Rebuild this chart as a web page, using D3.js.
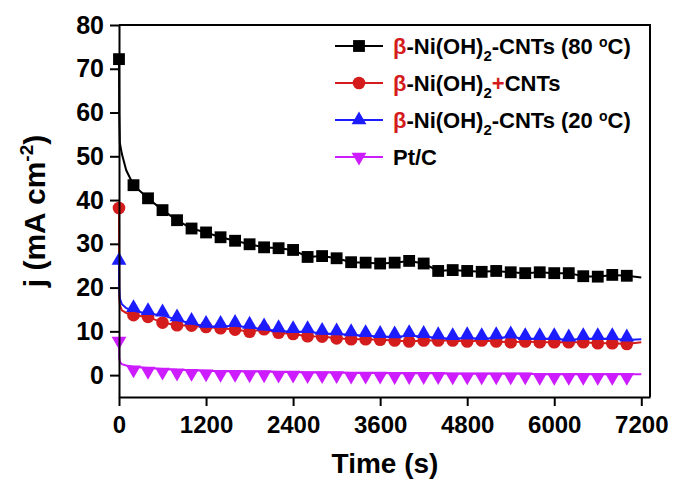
<!DOCTYPE html>
<html>
<head>
<meta charset="utf-8">
<title>j vs time</title>
<script src="https://d3js.org/d3.v7.min.js" charset="utf-8"></script>
<style>
body { margin: 0; background: #fff; }
text { font-family: "Liberation Sans", Arial, sans-serif; font-weight: bold; fill: #000; }
</style>
</head>
<body>
<script>
// chart size
var width = 674;
var height = 479;

// time of every plotted symbol (s)
var markerTimes = [0, 200, 400, 600, 800, 1000, 1200, 1400, 1600, 1800, 2000, 2200,
  2400, 2600, 2800, 3000, 3200, 3400, 3600, 3800, 4000, 4200, 4400, 4600,
  4800, 5000, 5200, 5400, 5600, 5800, 6000, 6200, 6400, 6600, 6800, 7000];
// extra points of the fast initial decay, and last point of each trace
var headTimes = [3, 12, 40, 100];
var endTime = 7200;

// beta-Ni(OH)2-CNTs (80 C)
var hot80Marks = [72.2, 43.4, 40.4, 37.7, 35.4, 33.5, 32.6, 31.5, 30.7, 29.9, 29.2, 29.0,
  28.6, 27.0, 27.2, 26.7, 25.8, 25.7, 25.5, 25.7, 26.1, 25.5, 23.8, 24.0,
  23.8, 23.6, 23.8, 23.5, 23.3, 23.5, 23.3, 23.3, 22.6, 22.5, 22.9, 22.7];
var hot80Head = [60, 53, 50.5, 46.8];
var hot80End = 22.3;

// beta-Ni(OH)2+CNTs
var mixMarks = [38.2, 13.7, 13.3, 12.0, 11.4, 11.3, 11.0, 10.7, 10.4, 9.9, 10.5, 9.7,
  9.4, 8.9, 8.8, 8.4, 8.2, 8.2, 8.1, 7.9, 7.7, 7.9, 7.9, 7.9,
  7.7, 7.9, 7.7, 7.5, 7.7, 7.5, 7.5, 7.5, 7.5, 7.3, 7.3, 7.1];
var mixHead = [18, 16, 14.8, 14.2];
var mixEnd = 7.5;

// beta-Ni(OH)2-CNTs (20 C)
var cold20Marks = [25.5, 14.7, 14.0, 13.7, 12.6, 11.8, 11.1, 11.1, 11.3, 10.9, 10.5, 10.1,
  9.9, 9.9, 9.5, 9.4, 9.2, 9.0, 8.8, 8.7, 9.0, 8.8, 8.5, 8.3,
  8.5, 8.3, 8.5, 8.7, 8.3, 8.3, 8.3, 8.0, 8.3, 8.3, 8.3, 8.0];
var cold20Head = [20, 17.5, 16.2, 15.3];
var cold20End = 8.2;

// Pt/C
var ptcMarks = [8.5, 1.9, 1.6, 1.4, 1.2, 1.1, 1.0, 0.9, 0.9, 0.8, 0.8, 0.7,
  0.7, 0.6, 0.6, 0.6, 0.5, 0.5, 0.5, 0.4, 0.4, 0.4, 0.4, 0.3,
  0.3, 0.3, 0.3, 0.3, 0.3, 0.2, 0.2, 0.2, 0.2, 0.2, 0.2, 0.2];
var ptcHead = [4, 3, 2.5, 2.2];
var ptcEnd = 0.2;

var xTicks = [0, 1200, 2400, 3600, 4800, 6000, 7200];
var yTicks = [0, 10, 20, 30, 40, 50, 60, 70, 80];

var red = "#d41c1c";
var series = [
  { marks: hot80Marks, head: hot80Head, end: hot80End, color: "#000000", shape: d3.symbolSquare, size: 140, dy: 0, rot: 0 },
  { marks: mixMarks, head: mixHead, end: mixEnd, color: red, shape: d3.symbolCircle, size: 125, dy: 0, rot: 0 },
  { marks: cold20Marks, head: cold20Head, end: cold20End, color: "#1c1cff", shape: d3.symbolTriangle, size: 95, dy: -3, rot: 0 },
  { marks: ptcMarks, head: ptcHead, end: ptcEnd, color: "#cc1cff", shape: d3.symbolTriangle, size: 95, dy: 3, rot: 180 }
];

var svg = d3.select("body").append("svg")
  .attr("width", width)
  .attr("height", height);

var x = d3.scaleLinear().domain([0, 7320]).range([119, 650]);
var y = d3.scaleLinear().domain([-5, 80]).range([397, 25]);

var line = d3.line()
  .x(function(d) { return x(d[0]); })
  .y(function(d) { return y(d[1]); });

series.forEach(function(s) {
  var pts = [[markerTimes[0], s.marks[0]]];
  headTimes.forEach(function(t, i) { pts.push([t, s.head[i]]); });
  markerTimes.forEach(function(t, i) { if (i > 0) pts.push([t, s.marks[i]]); });
  pts.push([endTime, s.end]);

  svg.append("path")
    .datum(pts)
    .attr("fill", "none")
    .attr("stroke", s.color)
    .attr("stroke-width", 2)
    .attr("d", line);

  svg.append("g").selectAll("path")
    .data(markerTimes.map(function(t, i) { return [t, s.marks[i]]; }))
    .enter().append("path")
    .attr("d", d3.symbol().type(s.shape).size(s.size))
    .attr("fill", s.color)
    .attr("transform", function(d) {
      return "translate(" + x(d[0]) + "," + (y(d[1]) + s.dy) + ") rotate(" + s.rot + ")";
    });
});

// axes
var xAxis = svg.append("g")
  .attr("transform", "translate(0,397)")
  .call(d3.axisBottom(x).tickValues(xTicks).tickFormat(d3.format("d"))
    .tickSize(9).tickSizeOuter(0).tickPadding(10));
var yAxis = svg.append("g")
  .attr("transform", "translate(119,0)")
  .call(d3.axisLeft(y).tickValues(yTicks).tickFormat(d3.format("d"))
    .tickSize(9).tickSizeOuter(0).tickPadding(6));

svg.selectAll(".domain, .tick line").attr("stroke", "#000").attr("stroke-width", 2);
xAxis.selectAll("text").style("font-size", "24px");
yAxis.selectAll("text").style("font-size", "25px");

// frame top and right
svg.append("path")
  .attr("d", "M119,25H650V397")
  .attr("fill", "none")
  .attr("stroke", "#000")
  .attr("stroke-width", 2);

// axis titles
svg.append("text")
  .attr("x", 385)
  .attr("y", 473)
  .attr("text-anchor", "middle")
  .style("font-size", "28px")
  .text("Time (s)");

var yt = svg.append("text")
  .attr("transform", "translate(45,211) rotate(-90)")
  .attr("text-anchor", "middle")
  .style("font-size", "30px");
yt.append("tspan").text("j (mA cm");
yt.append("tspan").attr("dy", -12).style("font-size", "19px").text("-2");
yt.append("tspan").attr("dy", 12).text(")");

// legend
var legRows = [46, 83, 120, 157];
var legend = svg.append("g");
series.forEach(function(s, i) {
  var ly = legRows[i];
  legend.append("line")
    .attr("x1", 335).attr("x2", 383)
    .attr("y1", ly).attr("y2", ly)
    .attr("stroke", s.color).attr("stroke-width", 2);
  legend.append("path")
    .attr("d", d3.symbol().type(s.shape).size(s.size))
    .attr("fill", s.color)
    .attr("transform", "translate(359," + ly + ") rotate(" + s.rot + ")");
});

// temp = null for the label without a temperature
function niLabel(row, temp, plusRed) {
  var t = legend.append("text")
    .attr("x", 393)
    .attr("y", legRows[row] + 8)
    .style("font-size", "22px");
  t.append("tspan").style("fill", red).text("\u03b2");
  t.append("tspan").text("-Ni(OH)");
  t.append("tspan").attr("dy", 7).style("font-size", "15px").text("2");
  if (plusRed) {
    t.append("tspan").attr("dy", -7).style("fill", red).text("+");
    t.append("tspan").text("CNTs");
  } else {
    t.append("tspan").attr("dy", -7).text("-CNTs (" + temp + " ");
    t.append("tspan").attr("dy", -7).style("font-size", "14px").text("o");
    t.append("tspan").attr("dy", 7).text("C)");
  }
}
niLabel(0, "80", false);
niLabel(1, null, true);
niLabel(2, "20", false);
legend.append("text")
  .attr("x", 393)
  .attr("y", legRows[3] + 8)
  .style("font-size", "22px")
  .text("Pt/C");
</script>
</body>
</html>
